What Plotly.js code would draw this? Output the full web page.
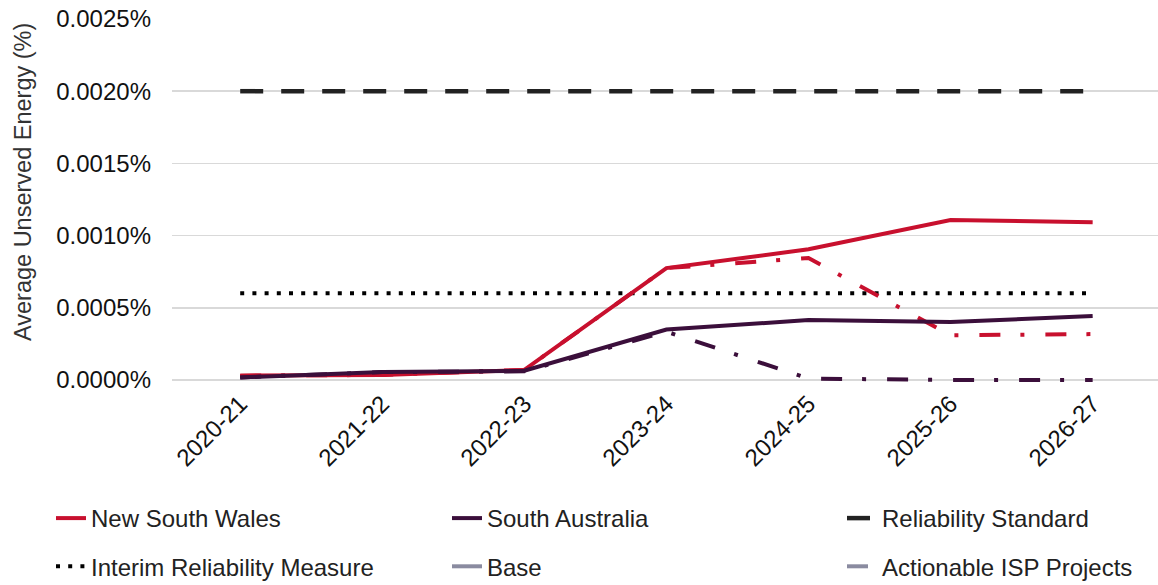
<!DOCTYPE html>
<html><head><meta charset="utf-8">
<script src="https://cdn.plot.ly/plotly-3.0.1.min.js"></script>
<style>html,body{margin:0;padding:0;background:#fff}#chart{width:1158px;height:585px}</style>
</head><body><div id="chart"></div>
<script>
const years = ['2020-21', '2021-22', '2022-23', '2023-24', '2024-25', '2025-26', '2026-27'];
const nswBase = [0.000030, 0.000035, 0.000070, 0.000775, 0.000905, 0.001108, 0.001092];
const nswActionable = [0.000030, 0.000035, 0.000070, 0.000775, 0.000845, 0.000310, 0.000318];
const saBase = [0.000018, 0.000055, 0.000064, 0.000350, 0.000415, 0.000402, 0.000443];
const saActionable = [0.000018, 0.000055, 0.000060, 0.000335, 0.000010, 0.000000, 0.000000];
const reliabilityStandard = [0.002, 0.002, 0.002, 0.002, 0.002, 0.002, 0.002];
const interimReliabilityMeasure = [0.0006, 0.0006, 0.0006, 0.0006, 0.0006, 0.0006, 0.0006];
const yTickVals = [0, 0.0005, 0.0010, 0.0015, 0.0020, 0.0025];
const yTickText = ['0.0000%', '0.0005%', '0.0010%', '0.0015%', '0.0020%', '0.0025%'];
const yTitle = 'Average Unserved Energy (%)';

const RED = '#C8102E', PURPLE = '#3B0F3B', GREY = '#8A8BA0', BLACK = '#222222';
const FONT = 'Liberation Sans, Arial, sans-serif';
const FS = 24;
const dashDot = '21px,20px,4px,21px';

const traces = [
  {name: 'Interim Reliability Measure', x: years, y: interimReliabilityMeasure, mode: 'lines',
   line: {color: '#000000', width: 4, dash: '4px,8.2px'}, legend: 'legend', legendrank: 2, legendgroup: 'g2'},
  {name: 'Reliability Standard', x: years, y: reliabilityStandard, mode: 'lines',
   line: {color: BLACK, width: 4.5, dash: '23px,18px'}, legend: 'legend3', legendrank: 1, legendgroup: 'g5'},
  {name: 'NSW Actionable ISP Projects', x: years, y: nswActionable, mode: 'lines',
   line: {color: RED, width: 4, dash: dashDot}, showlegend: false},
  {name: 'New South Wales', x: years, y: nswBase, mode: 'lines',
   line: {color: RED, width: 4}, legend: 'legend', legendrank: 1, legendgroup: 'g1'},
  {name: 'SA Actionable ISP Projects', x: years, y: saActionable, mode: 'lines',
   line: {color: PURPLE, width: 4, dash: dashDot}, showlegend: false},
  {name: 'South Australia', x: years, y: saBase, mode: 'lines',
   line: {color: PURPLE, width: 4}, legend: 'legend2', legendrank: 1, legendgroup: 'g3'},
  {name: 'Base', x: [years[0]], y: [null], mode: 'lines',
   line: {color: GREY, width: 4}, legend: 'legend2', legendrank: 2, legendgroup: 'g4'},
  {name: 'Actionable ISP Projects', x: [years[0]], y: [null], mode: 'lines',
   line: {color: GREY, width: 4, dash: dashDot}, legend: 'legend3', legendrank: 2, legendgroup: 'g6'}
];
traces.forEach(t => { t.hoverinfo = 'skip'; });

function legendAt(px) {
  return {x: px / 1158, xref: 'container', xanchor: 'left', y: 1 - 496 / 585, yref: 'container', yanchor: 'top',
    orientation: 'v', traceorder: 'grouped', tracegroupgap: 14, bgcolor: 'rgba(0,0,0,0)', borderwidth: 0,
    font: {family: FONT, size: FS, color: '#222222'}};
}

const layout = {
  width: 1158, height: 585,
  margin: {l: 172, r: 0, t: 19, b: 201, autoexpand: false},
  paper_bgcolor: '#ffffff', plot_bgcolor: '#ffffff',
  font: {family: FONT, size: FS, color: '#111111'},
  xaxis: {type: 'category', range: [-0.48, 6.46], showgrid: false, zeroline: false, showline: false,
    tickangle: -45, ticks: '', tickfont: {family: FONT, size: FS, color: '#111111'}, fixedrange: true, automargin: false},
  yaxis: {range: [-0.0000277, 0.0025], tickvals: yTickVals, ticktext: yTickText,
    showgrid: true, gridcolor: '#d9d9d9', gridwidth: 1.5, zeroline: true, zerolinecolor: '#d9d9d9', zerolinewidth: 1.5,
    showline: false, ticks: '', ticklabelstandoff: 20, tickfont: {family: FONT, size: FS, color: '#111111'},
    fixedrange: true, automargin: false},
  annotations: [{text: yTitle, textangle: -90, xref: 'paper', yref: 'paper',
    x: (23 - 172) / 986, y: (384 - 182) / 365, xanchor: 'center', yanchor: 'middle', showarrow: false,
    font: {family: FONT, size: 23.5, color: '#333333'}}],
  legend: legendAt(51),
  legend2: legendAt(447),
  legend3: legendAt(842),
  showlegend: true
};

Plotly.newPlot('chart', traces, layout, {displayModeBar: false, staticPlot: true});
</script>
</body></html>
